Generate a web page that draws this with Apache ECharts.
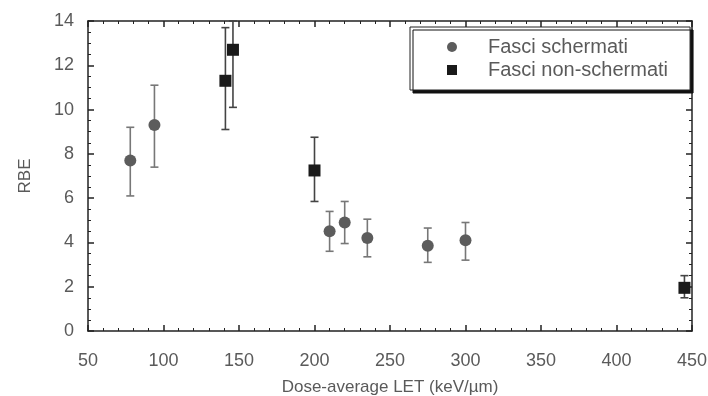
<!DOCTYPE html>
<html>
<head>
<meta charset="utf-8">
<script src="https://cdn.jsdelivr.net/npm/echarts@6/dist/echarts.min.js"></script>
<style>
  html, body { margin: 0; padding: 0; background: #fff; }
  #chart { width: 708px; height: 396px; }
</style>
</head>
<body>
<div id="chart"></div>
<script>
// shielded beams (circles)
const shieldedLET = [78, 94, 210, 220, 235, 275, 300];
const shieldedRBE = [7.7, 9.3, 4.5, 4.9, 4.2, 3.85, 4.1];
const shieldedLow = [6.1, 7.4, 3.6, 3.95, 3.35, 3.1, 3.2];
const shieldedHigh = [9.2, 11.1, 5.4, 5.85, 5.05, 4.65, 4.9];

// unshielded beams (squares)
const openLET = [141, 146, 200, 445];
const openRBE = [11.3, 12.7, 7.25, 1.95];
const openLow = [9.1, 10.1, 5.85, 1.5];
const openHigh = [13.7, 14, 8.75, 2.5];

const LABEL_COLOR = "#5a5a5a";
const FRAME_COLOR = "#222";
const FONT = "Liberation Sans, Arial, sans-serif";

const toPoints = (xs, ys) => xs.map((x, i) => [x, ys[i]]);
const toBars = (xs, lo, hi) => xs.map((x, i) => [x, lo[i], hi[i]]);

const errorBarSeries = (data, color) => ({
  type: "custom",
  data,
  silent: true,
  z: 1,
  renderItem(params, api) {
    const x = api.value(0);
    const lo = api.coord([x, api.value(1)]);
    const hi = api.coord([x, api.value(2)]);
    const cap = 4;
    const style = { stroke: color, lineWidth: 1.6 };
    return {
      type: "group",
      children: [
        { type: "line", shape: { x1: lo[0], y1: lo[1], x2: hi[0], y2: hi[1] }, style },
        { type: "line", shape: { x1: lo[0] - cap, y1: lo[1], x2: lo[0] + cap, y2: lo[1] }, style },
        { type: "line", shape: { x1: hi[0] - cap, y1: hi[1], x2: hi[0] + cap, y2: hi[1] }, style },
      ],
    };
  },
});

const frameAxis = (position, extra) => ({
  position,
  axisLine: { show: true, onZero: false, lineStyle: { color: FRAME_COLOR, width: 1.5 } },
  axisTick: { show: true, inside: true, length: 6, lineStyle: { color: FRAME_COLOR, width: 1.5 } },
  minorTick: { show: true, splitNumber: 5, length: 3, lineStyle: { color: FRAME_COLOR } },
  splitLine: { show: false },
  ...extra,
});

const chart = echarts.init(document.getElementById("chart"));

chart.setOption({
  backgroundColor: "#fff",
  animation: false,
  grid: { left: 88, right: 16, top: 21, bottom: 65, outerBoundsMode: "none" },
  legend: {
    orient: "vertical",
    left: 410,
    top: 27,
    padding: [10, 22, 10, 37],
    itemGap: 3,
    itemWidth: 10,
    itemHeight: 10,
    backgroundColor: "#fff",
    borderColor: FRAME_COLOR,
    borderWidth: 1,
    shadowColor: "#111",
    shadowBlur: 0,
    shadowOffsetX: 3,
    shadowOffsetY: 3,
    textStyle: {
      color: LABEL_COLOR,
      fontSize: 20,
      fontFamily: FONT,
      padding: [0, 0, 0, 26],
    },
    data: [
      { name: "Fasci schermati", icon: "circle" },
      { name: "Fasci non-schermati", icon: "rect" },
    ],
  },
  xAxis: [
    frameAxis("bottom", {
      type: "value",
      min: 50,
      max: 450,
      interval: 50,
      name: "Dose-average LET (keV/\u00b5m)",
      nameLocation: "middle",
      nameGap: 48,
      nameTextStyle: { color: LABEL_COLOR, fontSize: 17, fontFamily: FONT },
      axisLabel: { color: LABEL_COLOR, fontSize: 18, fontFamily: FONT, margin: 21 },
    }),
    frameAxis("top", {
      type: "value",
      min: 50,
      max: 450,
      interval: 50,
      axisLabel: { show: false },
    }),
  ],
  yAxis: [
    frameAxis("left", {
      type: "value",
      min: 0,
      max: 14,
      interval: 2,
      minorTick: { show: true, splitNumber: 4, length: 3, lineStyle: { color: FRAME_COLOR } },
      name: "RBE",
      nameLocation: "middle",
      nameGap: 54,
      nameTextStyle: { color: LABEL_COLOR, fontSize: 17, fontFamily: FONT },
      axisLabel: { color: LABEL_COLOR, fontSize: 18, fontFamily: FONT, margin: 14 },
    }),
    frameAxis("right", {
      type: "value",
      min: 0,
      max: 14,
      interval: 2,
      minorTick: { show: true, splitNumber: 4, length: 3, lineStyle: { color: FRAME_COLOR } },
      axisLabel: { show: false },
    }),
  ],
  series: [
    errorBarSeries(toBars(shieldedLET, shieldedLow, shieldedHigh), "#777"),
    errorBarSeries(toBars(openLET, openLow, openHigh), "#444"),
    {
      name: "Fasci schermati",
      type: "scatter",
      symbol: "circle",
      symbolSize: 12,
      itemStyle: { color: "#5c5c5c", opacity: 1 },
      data: toPoints(shieldedLET, shieldedRBE),
      z: 3,
    },
    {
      name: "Fasci non-schermati",
      type: "scatter",
      symbol: "rect",
      symbolSize: 12,
      itemStyle: { color: "#1a1a1a", opacity: 1 },
      data: toPoints(openLET, openRBE),
      z: 3,
    },
  ],
});
</script>
</body>
</html>
